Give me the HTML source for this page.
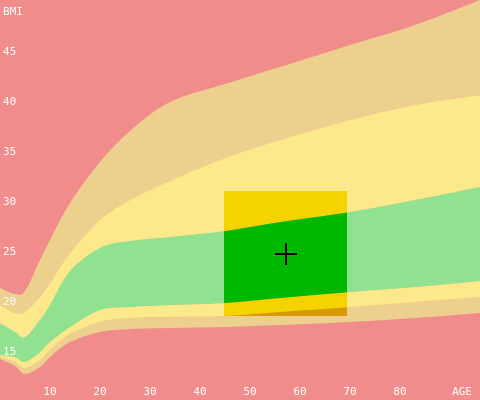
<!DOCTYPE html>
<html><head><meta charset="utf-8"><style>
html,body{margin:0;padding:0;background:#f08c8c;}
svg{display:block}
text{font-family:"DejaVu Sans Mono","Liberation Mono",monospace;font-size:11px;fill:#fff}
</style></head><body>
<svg id="chart" width="480" height="400" xmlns="http://www.w3.org/2000/svg">
<rect x="0" y="0" width="480" height="400" fill="#f08c8c"/>
<g id="bands"></g>
<defs><clipPath id="boxclip"><rect id="boxr"/></clipPath></defs>
<g id="hbands" clip-path="url(#boxclip)"></g>
<g id="labels"></g>
<g id="cross"></g>
</svg>
<script>
const ages=[0,3,5,8,10,14,20,26,34,45,56,70,83,96];
const tanBottom=[14.1,13.4,12.6,13.3,14.3,15.8,16.8,17.1,17.2,17.3,17.5,17.8,18.2,18.7];
const yellowBottom=[14.3,13.8,13.2,14.0,15.0,16.6,17.8,18.2,18.3,18.4,18.8,19.3,19.8,20.3];
const greenBottom=[14.5,14.3,13.8,14.8,15.8,17.3,19.0,19.3,19.5,19.7,20.2,20.8,21.3,21.9];
const greenTop=[17.7,16.8,16.3,18.0,19.5,22.9,25.2,25.9,26.3,26.9,27.8,28.8,30.0,31.3];
const yellowTop=[19.5,18.7,18.8,20.3,21.7,24.7,28.0,30.0,31.9,34.2,36.0,38.0,39.5,40.5];
const tanTop=[21.2,20.6,20.9,24.0,26.0,29.7,33.8,36.9,39.8,41.6,43.3,45.5,47.5,50.0];
const yTicks=[15,20,25,30,35,40,45];
const xTicks=[10,20,30,40,50,60,70,80];
const boxAge=[44.8,69.4];
const boxBmi=[18.4,30.9];
const point=[57.2,24.6];
const X=a=>a*5, Y=b=>500-b*10;
const NS="http://www.w3.org/2000/svg";
function pts(arr){return ages.map((a,i)=>[X(a),Y(arr[i])]);}
function spline(p){let d="";for(let i=0;i<p.length-1;i++){const p0=p[i-1]||p[i],p1=p[i],p2=p[i+1],p3=p[i+2]||p2;
const c1=[p1[0]+(p2[0]-p0[0])/6,p1[1]+(p2[1]-p0[1])/6],c2=[p2[0]-(p3[0]-p1[0])/6,p2[1]-(p3[1]-p1[1])/6];
d+=` C${c1[0]},${c1[1]} ${c2[0]},${c2[1]} ${p2[0]},${p2[1]}`;}return d;}
function band(lo,hi){const a=pts(hi),b=pts(lo).reverse();
return `M${a[0][0]},${a[0][1]}`+spline(a)+` L${b[0][0]},${b[0][1]}`+spline(b)+"Z";}
function drawBands(g,cols,prefix){
 const defs=[[tanBottom,yellowBottom,cols[0],'tan-low'],[yellowBottom,greenBottom,cols[1],'yellow-low'],[greenBottom,greenTop,cols[2],'green-normal'],[greenTop,yellowTop,cols[1],'yellow-high'],[yellowTop,tanTop,cols[0],'tan-high']];
 defs.forEach(d=>{const p=document.createElementNS(NS,'path');p.setAttribute('d',band(d[0],d[1]));p.setAttribute('fill',d[2]);
 
 
 g.appendChild(p);});
}
drawBands(document.getElementById('bands'),['#eed08e','#fbe98b','#90e290'],'');
const br=document.getElementById('boxr');
br.setAttribute('x',X(boxAge[0]));br.setAttribute('width',X(boxAge[1])-X(boxAge[0]));
br.setAttribute('y',Y(boxBmi[1]));br.setAttribute('height',Y(boxBmi[0])-Y(boxBmi[1]));
const hb=document.getElementById('hbands');
const bg=document.createElementNS(NS,'rect');bg.setAttribute('x',0);bg.setAttribute('y',0);bg.setAttribute('width',480);bg.setAttribute('height',400);bg.setAttribute('fill','#e07070');


hb.appendChild(bg);
drawBands(hb,['#d89a00','#f5d300','#00b800'],'highlight-');
const lg=document.getElementById('labels');
function txt(s,x,y,anchor,name){const t=document.createElementNS(NS,'text');t.textContent=s;t.setAttribute('x',x);t.setAttribute('y',y);t.setAttribute('text-anchor',anchor);


lg.appendChild(t);}
txt('BMI',3,15,'start','y-axis-title');
yTicks.forEach(v=>txt(String(v),3,Y(v)+5,'start','y-tick-'+v));
xTicks.forEach(v=>txt(String(v),X(v),395,'middle','x-tick-'+v));
txt('AGE',462,395,'middle','x-axis-title');
const cg=document.getElementById('cross');
const cx=X(point[0]),cy=Y(point[1]);
[[cx-11,cy,cx+11,cy],[cx,cy-11,cx,cy+11]].forEach((l,i)=>{const e=document.createElementNS(NS,'line');
e.setAttribute('x1',l[0]);e.setAttribute('y1',l[1]);e.setAttribute('x2',l[2]);e.setAttribute('y2',l[3]);e.setAttribute('stroke','#000');e.setAttribute('stroke-width','2');


cg.appendChild(e);});
</script>
</body></html>
